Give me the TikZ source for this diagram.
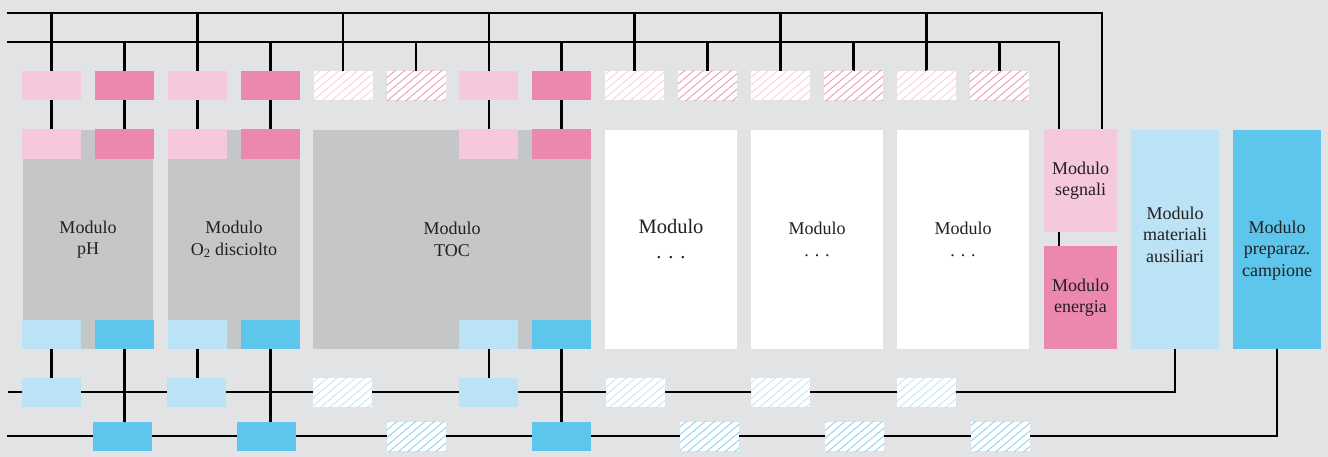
\documentclass[tikz,border=0pt]{standalone}
\usepackage{fontspec}
\setmainfont{Liberation Serif}
\usetikzlibrary{patterns.meta}
\definecolor{bg}{HTML}{E2E3E5}
\definecolor{lpink}{HTML}{F5C8DB}
\definecolor{dpink}{HTML}{EC87B0}
\definecolor{lblue}{HTML}{BBE3F5}
\definecolor{dblue}{HTML}{5EC6EC}
\definecolor{mgray}{HTML}{C5C6C8}
\definecolor{txt}{HTML}{231F20}
\definecolor{hlpink}{HTML}{F8D0E0}
\definecolor{hdpink}{HTML}{EE9ABD}
\definecolor{hlblue}{HTML}{C4E6F6}
\definecolor{hdblue}{HTML}{8AD2EF}
\pgfdeclarelayer{bglayer}
\pgfdeclarelayer{linelayer}
\pgfsetlayers{bglayer,linelayer,main}
\tikzset{
  bx/.style={draw=none, inner sep=0pt, outer sep=0pt, anchor=north west,
    minimum width=59pt, minimum height=29.5pt},
  bxlp/.style={bx, fill=lpink},
  bxdp/.style={bx, fill=dpink},
  bxlb/.style={bx, fill=lblue},
  bxdb/.style={bx, fill=dblue},
  hatchbox/.style={bx, preaction={fill=white},
    pattern={Lines[angle=40,distance=6pt,line width=0.9pt]}, pattern color=#1},
  bxhlp/.style={hatchbox=hlpink},
  bxhdp/.style={hatchbox=hdpink},
  bxhlb/.style={hatchbox=hlblue},
  bxhdb/.style={hatchbox=hdblue},
  modbox/.style={draw=none, inner sep=0pt, outer sep=0pt, anchor=north west,
    align=center, text=txt, font=\fontsize{18}{21.5}\selectfont,
    minimum width=#1},
  modtext/.style={inner sep=0pt, align=center, text=txt,
    font=\fontsize{18}{21.5}\selectfont},
  bus/.style={line width=2.7pt, black},
}
\begin{document}
\begin{tikzpicture}[x=1pt,y=-1pt]
\begin{pgfonlayer}{bglayer}
\fill[bg] (0,0) rectangle (1328,457);
\end{pgfonlayer}
\useasboundingbox (0,0) rectangle (1328,457);

% bus end coordinates
\coordinate (top1w) at (7,13);
\coordinate (top2w) at (7,42);
\coordinate (botAw) at (8,392);
\coordinate (botBw) at (7,436);

% modules
\node[modbox=130pt, fill=mgray, minimum height=219pt] (m1) at (23,130) {Modulo\\pH};
\node[modbox=132pt, fill=mgray, minimum height=219pt] (m2) at (168,130) {Modulo\\O\textsubscript{2} disciolto};
\node[modbox=278pt, fill=mgray, minimum height=219pt] (m3) at (313,130) {Modulo\\TOC};
\node[modbox=132pt, fill=white, minimum height=219pt, font=\fontsize{20.5}{25}\selectfont] (m4) at (605,130) {Modulo\\. . .};
\node[modbox=132pt, fill=white, minimum height=219pt] (m5) at (751,130) {Modulo\\. . .};
\node[modbox=132pt, fill=white, minimum height=219pt] (m6) at (897,130) {Modulo\\. . .};
\node[modbox=73pt, fill=lpink, minimum height=103pt] (ms) at (1044,129) {Modulo\\segnali};
\node[modbox=73pt, fill=dpink, minimum height=103pt] (me) at (1044,246) {Modulo\\energia};
\node[modbox=88pt, fill=lblue, minimum height=219pt] (ma) at (1131,130) {};
\node[modtext] (mat) at ([yshift=5pt]ma.center) {Modulo\\materiali\\ausiliari};
\node[modbox=88pt, fill=dblue, minimum height=219pt] (mc) at (1233,130) {};
\node[modtext] (mct) at ([yshift=-11pt]mc.center) {Modulo\\preparaz.\\campione};

% top row of connectors
\foreach \i/\s in {0/bxlp,1/bxdp,2/bxlp,3/bxdp,4/bxhlp,5/bxhdp,6/bxlp,7/bxdp,
                   8/bxhlp,9/bxhdp,10/bxhlp,11/bxhdp,12/bxhlp,13/bxhdp}
  \node[\s] (t\i) at ({22+72.9*\i},71) {};

% second row (on modules) and inner bottom row
\foreach \i/\s/\u in {0/bxlp/bxlb,1/bxdp/bxdb,2/bxlp/bxlb,3/bxdp/bxdb,6/bxlp/bxlb,7/bxdp/bxdb}{
  \node[\s] (p\i) at ({22+72.9*\i},129.5) {};
  \node[\u] (u\i) at ({22+72.9*\i},319.5) {};
}

% bottom row A
\node[bxlb]  (a0)  at (22,377.5) {};
\node[bxlb]  (a2)  at (167,377.5) {};
\node[bxhlb] (a4)  at (313,377.5) {};
\node[bxlb]  (a6)  at (459,377.5) {};
\node[bxhlb] (a8)  at (606,377.5) {};
\node[bxhlb] (a10) at (751,377.5) {};
\node[bxhlb] (a12) at (897,377.5) {};
% bottom row B
\node[bxdb]  (b1)  at (93,421.5) {};
\node[bxdb]  (b3)  at (237,421.5) {};
\node[bxhdb] (b5)  at (387,421.5) {};
\node[bxdb]  (b7)  at (532,421.5) {};
\node[bxhdb] (b9)  at (680,421.5) {};
\node[bxhdb] (b11) at (825,421.5) {};
\node[bxhdb] (b13) at (971,421.5) {};

\begin{pgfonlayer}{linelayer}
% top buses
\draw[bus] (top1w) -| ([xshift=21.5pt]ms.north);
\draw[bus] (top2w) -| ([xshift=-21.5pt]ms.north);
\foreach \i in {0,2,4,6,8,10,12}
  \draw[bus] (t\i.north) -- (t\i.north |- top1w);
\foreach \i in {1,3,5,7,9,11,13}
  \draw[bus] (t\i.north) -- (t\i.north |- top2w);
\foreach \i in {0,1,2,3,6,7}
  \draw[bus] (t\i.south) -- (p\i.north);
\draw[bus] ([xshift=-21.5pt]ms.south) -- ([xshift=-21.5pt]me.north);
% bottom buses
\draw[bus] (botAw) -| (ma.south);
\draw[bus] (botBw) -| (mc.south);
\foreach \i in {0,2,6}
  \draw[bus] (u\i.south) -- (u\i.south |- a\i.north);
\foreach \i in {1,3,7}
  \draw[bus] (u\i.south) -- (u\i.south |- b\i.north);
\end{pgfonlayer}
\end{tikzpicture}
\end{document}
